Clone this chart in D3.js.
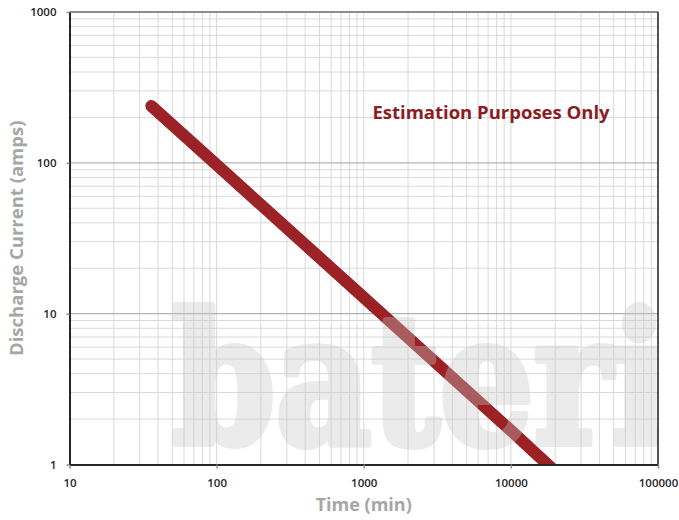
<!DOCTYPE html>
<html>
<head>
<meta charset="utf-8">
<script src="https://cdn.jsdelivr.net/npm/d3@7"></script>
<style>
  body { margin: 0; background: #fff; }
  text { font-family: "Open Sans", sans-serif; }
</style>
</head>
<body>
<svg id="chart" width="679" height="520"></svg>
<script>
// discharge curve (min, amps)
const timeMin = [36, 100, 1000, 10000, 20000];
const currentAmps = [238, 97, 12.8, 1.68, 0.9];
const xTicks = [10, 100, 1000, 10000, 100000];
const yTicks = [1, 10, 100, 1000];

const margin = {top: 12, right: 21, bottom: 55.5, left: 69.5},
    width = 679 - margin.left - margin.right,
    height = 520 - margin.top - margin.bottom;

const svg = d3.select("#chart");
const g = svg.append("g")
    .attr("transform", "translate(" + margin.left + "," + margin.top + ")");

const x = d3.scaleLog().domain([10, 100000]).range([0, width]);
const y = d3.scaleLog().domain([1, 1000]).range([height, 0]);

svg.append("defs").append("clipPath").attr("id", "plot")
  .append("rect").attr("width", width).attr("height", height);

// minor + major gridlines
const minorX = [], minorY = [];
for (let d = 10; d < 100000; d *= 10) for (let k = 2; k <= 9; k++) minorX.push(d * k);
for (let d = 1; d < 1000; d *= 10) for (let k = 2; k <= 9; k++) minorY.push(d * k);

g.append("g").selectAll("line").data(minorX.concat(xTicks)).join("line")
    .attr("x1", d => x(d)).attr("x2", d => x(d))
    .attr("y1", 0).attr("y2", height)
    .attr("stroke", "#d9d9d9").attr("stroke-width", 1);
g.append("g").selectAll("line").data(minorY).join("line")
    .attr("y1", d => y(d)).attr("y2", d => y(d))
    .attr("x1", 0).attr("x2", width)
    .attr("stroke", "#d9d9d9").attr("stroke-width", 1);
g.append("g").selectAll("line").data(yTicks).join("line")
    .attr("y1", d => y(d)).attr("y2", d => y(d))
    .attr("x1", 0).attr("x2", width)
    .attr("stroke", "#b3b3b3").attr("stroke-width", 1.2);

// the curve
const line = d3.line().x(d => x(d[0])).y(d => y(d[1]));
g.append("path")
    .datum(d3.zip(timeMin, currentAmps))
    .attr("clip-path", "url(#plot)")
    .attr("d", line)
    .attr("fill", "none")
    .attr("stroke", "#9b2226")
    .attr("stroke-width", 12)
    .attr("stroke-linecap", "round");

// watermark (heavier glyphs via a stroke, group opacity so overlaps stay flat)
g.append("g")
    .attr("clip-path", "url(#plot)")
    .attr("opacity", 0.35)
  .append("text")
    .attr("x", 172 - margin.left)
    .attr("y", 443 - margin.top)
    .attr("textLength", 496)
    .attr("lengthAdjust", "spacingAndGlyphs")
    .style("font-family", "'DejaVu Serif', serif")
    .style("font-weight", "bold")
    .style("font-size", "180px")
    .attr("fill", "rgb(198,198,198)")
    .attr("stroke", "rgb(198,198,198)")
    .attr("stroke-width", 8)
    .attr("stroke-linejoin", "round")
    .text("bateri");

// frame
g.append("line").attr("x1", 0).attr("x2", width).attr("y1", 0).attr("y2", 0)
    .attr("stroke", "#8c8c8c").attr("stroke-width", 2);
g.append("line").attr("x1", width).attr("x2", width).attr("y1", 0).attr("y2", height)
    .attr("stroke", "#222").attr("stroke-width", 1.5);

// axes
g.append("g")
    .attr("transform", "translate(0," + height + ")")
    .call(d3.axisBottom(x).tickValues(xTicks).tickFormat(d3.format("d"))
        .tickSize(4).tickSizeOuter(0).tickPadding(10))
    .call(a => a.select(".domain").attr("stroke", "#262626").attr("stroke-width", 2))
    .call(a => a.selectAll(".tick line").attr("stroke", "#8c8c8c").attr("stroke-width", 1.5))
    .call(a => a.selectAll(".tick text").attr("fill", "#262626")
        .style("font-size", "11.5px").style("font-weight", 600));

g.append("g")
    .call(d3.axisLeft(y).tickValues(yTicks).tickFormat(d3.format("d"))
        .tickSize(3).tickSizeOuter(0).tickPadding(10))
    .call(a => a.select(".domain").attr("stroke", "#262626").attr("stroke-width", 2))
    .call(a => a.selectAll(".tick line").attr("stroke", "#8c8c8c").attr("stroke-width", 1.5))
    .call(a => a.selectAll(".tick text").attr("fill", "#262626")
        .style("font-size", "11.5px").style("font-weight", 600));

// titles
svg.append("text")
    .attr("x", margin.left + width / 2).attr("y", 511)
    .attr("text-anchor", "middle")
    .attr("fill", "#a6a6a6")
    .style("font-size", "18px").style("font-weight", "bold")
    .text("Time (min)");

svg.append("text")
    .attr("transform", "translate(23," + (margin.top + height / 2) + ") rotate(-90)")
    .attr("text-anchor", "middle")
    .attr("fill", "#a6a6a6")
    .style("font-size", "18.5px").style("font-weight", "bold")
    .text("Discharge Current (amps)");

svg.append("text")
    .attr("x", 491).attr("y", 119)
    .attr("text-anchor", "middle")
    .attr("fill", "#8b1c24")
    .style("font-size", "18.5px").style("font-weight", "bold")
    .text("Estimation Purposes Only");
</script>
</body>
</html>
